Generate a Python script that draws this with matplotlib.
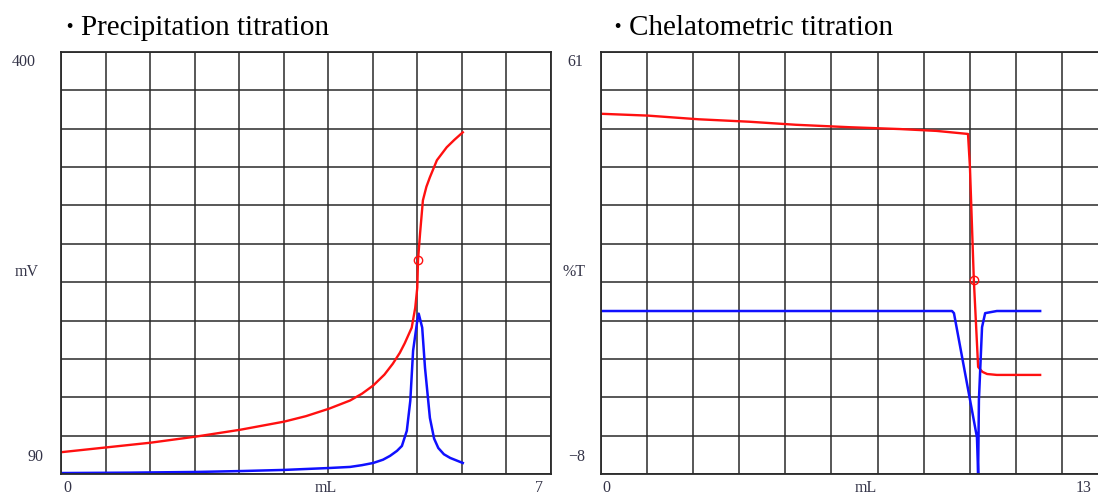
import numpy as np
import matplotlib.pyplot as plt

# --- Precipitation titration (mL vs mV) ---
prec_ml = [0, 0.64, 1.28, 1.93, 2.56, 3.19, 3.50, 3.83, 4.13, 4.30, 4.46, 4.62, 4.74, 4.84,
           4.91, 5.01, 5.06, 5.09, 5.10, 5.13, 5.17, 5.22, 5.27, 5.37, 5.51, 5.62, 5.74]
prec_mv = [106, 109.5, 113, 117.5, 122.5, 128.5, 132.5, 138, 144, 149, 155, 163, 171, 179,
           186, 197.5, 212, 227, 247, 267, 291, 301, 308, 320.5, 330, 335.5, 341]
prec_d_ml = [0, 1.0, 1.93, 2.6, 3.19, 3.83, 4.13, 4.30, 4.46, 4.60, 4.70, 4.80, 4.87, 4.94,
             4.99, 5.03, 5.09, 5.11, 5.16, 5.20, 5.27, 5.33, 5.39, 5.47, 5.56, 5.74]
prec_d_val = [90.7, 91.0, 91.5, 92.2, 93, 94.4, 95.2, 96.5, 98.1, 100.5, 103.3, 107, 110.6,
              121.7, 143.8, 180.6, 202.7, 207.8, 197.5, 168, 131.2, 116, 109.1, 104.5,
              101.8, 98.1]
prec_ep = (5.10, 247)

# --- Chelatometric titration (mL vs %T) ---
chel_ml = [0, 1.2, 2.5, 3.8, 5.0, 6.38, 7.67, 8.6, 9.41, 9.46, 9.56, 9.67, 9.78, 9.90,
           10.15, 11.26]
chel_t = [50.9, 50.6, 50.0, 49.6, 49.1, 48.7, 48.4, 48.1, 47.6, 42.2, 23.7, 9.5, 8.7, 8.35,
          8.2, 8.2]
chel_d_ml = [0, 5.0, 9.0, 9.05, 9.64, 9.67, 9.69, 9.77, 9.85, 10.15, 11.26]
chel_d_val = [18.65, 18.65, 18.65, 18.3, -2.0, -8.0, 4.1, 16.0, 18.3, 18.65, 18.65]
chel_ep = (9.56, 23.7)

label_color = '#343448'
grid_color = '#2a2a2a'
serif = ['Liberation Serif', 'Noto Sans CJK JP']

fig = plt.figure(figsize=(10.98, 4.96), dpi=100)


def setup(ax, xmax, ymin, ymax):
    ax.set_xlim(0, xmax)
    ax.set_ylim(ymin, ymax)
    ax.set_xticks(np.linspace(0, xmax, 12))
    ax.set_yticks(np.linspace(ymin, ymax, 12))
    ax.tick_params(length=0, labelbottom=False, labelleft=False)
    ax.grid(True, color=grid_color, lw=1.1)
    ax.set_axisbelow(True)
    for s in ax.spines.values():
        s.set_color(grid_color)
        s.set_linewidth(1.3)


def label(ax, x, y, s):
    ax.text(x, y, s, transform=ax.transAxes, ha='center', va='center',
            fontsize=11.5, color=label_color, family=serif)


# left panel
ax1 = fig.add_axes([61 / 1098, 22 / 496, 490 / 1098, 422 / 496])
setup(ax1, 7, 90, 400)
ax1.plot(prec_ml, prec_mv, color='#ff1010', lw=1.7)
ax1.plot(prec_d_ml, prec_d_val, color='#1010ff', lw=1.8)
ax1.plot(*prec_ep, 'o', mfc='none', mec='#ff1010', ms=6, mew=1)
label(ax1, -0.075, 0.976, '400')
label(ax1, -0.07, 0.479, 'mV')
label(ax1, -0.053, 0.04, '90')
label(ax1, 0.012, -0.032, '0')
label(ax1, 0.541, -0.032, 'mL')
label(ax1, 0.976, -0.032, '7')

# right panel (runs past the right edge of the picture)
ax2 = fig.add_axes([601 / 1098, 22 / 496, 507 / 1098, 422 / 496])
setup(ax2, 13, -8, 61)
ax2.plot(chel_ml, chel_t, color='#ff1010', lw=1.7)
ax2.plot(chel_d_ml, chel_d_val, color='#1010ff', lw=1.8)
ax2.plot(*chel_ep, 'o', mfc='none', mec='#ff1010', ms=6, mew=1)
label(ax2, -0.051, 0.976, '61')
label(ax2, -0.053, 0.479, '%T')
label(ax2, -0.048, 0.04, '\u22128')
label(ax2, 0.01, -0.032, '0')
label(ax2, 0.523, -0.032, 'mL')
label(ax2, 0.951, -0.032, '13')

# titles: bullet drawn separately so it sits tight against the text
for x0, title in [(69, 'Precipitation titration'), (617, 'Chelatometric titration')]:
    fig.text(x0 / 1098, 1 - 28 / 496, '・', ha='center', va='center',
             fontsize=16, color='black', family=['Noto Sans CJK JP'])
    fig.text((x0 + 12) / 1098, 1 - 28 / 496, title, ha='left', va='center',
             fontsize=21, color='black', family=serif)

fig.savefig('out.png', dpi=100)
